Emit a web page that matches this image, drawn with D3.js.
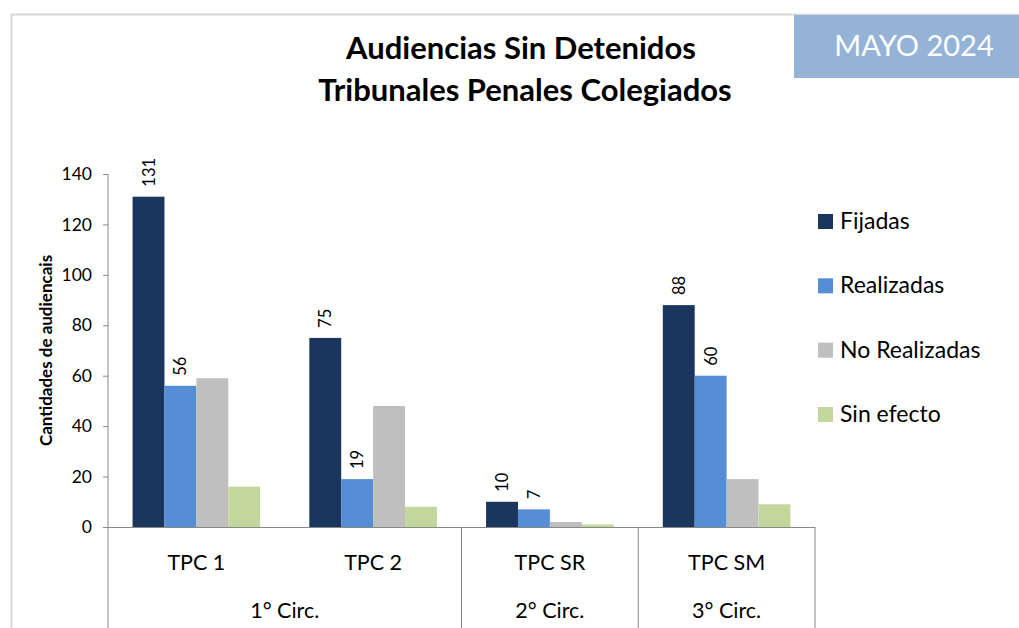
<!DOCTYPE html>
<html>
<head>
<meta charset="utf-8">
<script src="https://cdn.jsdelivr.net/npm/d3@7"></script>
<style>
  body { margin: 0; background: #fff; }
  svg { display: block; font-family: Lato, "Open Sans", sans-serif; }
</style>
</head>
<body>
<svg id="chart" width="1019" height="628"></svg>
<script>
// data
const categories = ["TPC 1", "TPC 2", "TPC SR", "TPC SM"];
const circs = [
  { label: "1° Circ.", from: 0, to: 1 },
  { label: "2° Circ.", from: 2, to: 2 },
  { label: "3° Circ.", from: 3, to: 3 }
];
const seriesNames = ["Fijadas", "Realizadas", "No Realizadas", "Sin efecto"];
const fijadas = [131, 75, 10, 88];
const realizadas = [56, 19, 7, 60];
const noRealizadas = [59, 48, 2, 19];
const sinEfecto = [16, 8, 1, 9];
const yTicks = [0, 20, 40, 60, 80, 100, 120, 140];
const colors = ["#1b365d", "#558ed5", "#bfbfbf", "#c3d69b"];

const seriesValues = [fijadas, realizadas, noRealizadas, sinEfecto];
const labelled = [true, true, false, false];

const svg = d3.select("#chart");

// outer chart border (top + left only are visible)
svg.append("path")
  .attr("d", "M11.5,628 V14.5 H1019")
  .attr("fill", "none")
  .attr("stroke", "#d9d9d9")
  .attr("stroke-width", 2);

// month box
svg.append("rect").attr("x", 794).attr("y", 15).attr("width", 225).attr("height", 63)
  .attr("fill", "#95b3d7");
svg.append("text").attr("x", 914).attr("y", 56).attr("text-anchor", "middle")
  .attr("fill", "#fff").attr("font-size", 29).text("MAYO 2024");

// title
const title = svg.append("text").attr("text-anchor", "middle")
  .attr("font-weight", "bold").attr("font-size", 31).attr("fill", "#000");
title.append("tspan").attr("x", 521).attr("y", 59).text("Audiencias Sin Detenidos");
title.append("tspan").attr("x", 525).attr("y", 101).text("Tribunales Penales Colegiados");

const x0 = d3.scaleBand().domain(categories).range([108, 815]).paddingInner(0).paddingOuter(0);
const x1 = d3.scaleBand().domain(seriesNames).range([0, x0.bandwidth()]).paddingInner(0).paddingOuter(0.77);
const y = d3.scaleLinear().domain([0, 140]).range([527, 174]);

// y axis
const yAxis = svg.append("g").attr("transform", "translate(108,0)")
  .call(d3.axisLeft(y).tickValues(yTicks).tickSize(5).tickPadding(11));
yAxis.select(".domain").remove();
yAxis.selectAll(".tick line").attr("stroke", "#888");
yAxis.selectAll(".tick text").attr("font-size", 17.5).attr("fill", "#000")
  .attr("font-family", "Lato, sans-serif");
svg.append("line").attr("x1", 108).attr("x2", 108).attr("y1", y(140)).attr("y2", 628)
  .attr("stroke", "#888");

svg.append("text")
  .attr("transform", `translate(52,${(y(0) + y(140)) / 2}) rotate(-90)`)
  .attr("text-anchor", "middle").attr("font-weight", "bold").attr("font-size", 17)
  .text("Cantidades de audiencais");

// bars
categories.forEach((cat, ci) => {
  const g = svg.append("g").attr("transform", `translate(${x0(cat)},0)`);
  seriesNames.forEach((s, si) => {
    const v = seriesValues[si][ci];
    g.append("rect")
      .attr("x", x1(s)).attr("width", x1.bandwidth())
      .attr("y", y(v)).attr("height", y(0) - y(v))
      .attr("fill", colors[si]);
    if (labelled[si]) {
      const lx = x1(s) + x1.bandwidth() / 2 + 6;
      const ly = y(v) - 10;
      g.append("text")
        .attr("transform", `translate(${lx},${ly}) rotate(-90)`)
        .attr("font-size", 16.5).attr("fill", "#000")
        .text(v);
    }
  });
});

// x axis
svg.append("line").attr("x1", 103).attr("x2", 815).attr("y1", 527.5).attr("y2", 527.5)
  .attr("stroke", "#888");
categories.forEach(cat => {
  svg.append("text").attr("x", x0(cat) + x0.bandwidth() / 2).attr("y", 570)
    .attr("text-anchor", "middle").attr("font-size", 21.5).text(cat);
});
circs.forEach(c => {
  const a = x0(categories[c.from]);
  const b = x0(categories[c.to]) + x0.bandwidth();
  svg.append("line").attr("x1", b).attr("x2", b).attr("y1", 527).attr("y2", 628)
    .attr("stroke", "#888");
  svg.append("text").attr("x", (a + b) / 2).attr("y", 618)
    .attr("text-anchor", "middle").attr("font-size", 21.5).text(c.label);
});

// legend
const legend = svg.append("g").attr("transform", "translate(818,0)");
const legendY = d3.scalePoint().domain(seriesNames).range([221, 414]);
seriesNames.forEach((s, i) => {
  legend.append("rect").attr("x", 0).attr("y", legendY(s) - 7).attr("width", 15).attr("height", 15)
    .attr("fill", colors[i]);
  legend.append("text").attr("x", 22).attr("y", legendY(s) + 8)
    .attr("font-size", 23).text(s);
});
</script>
</body>
</html>
